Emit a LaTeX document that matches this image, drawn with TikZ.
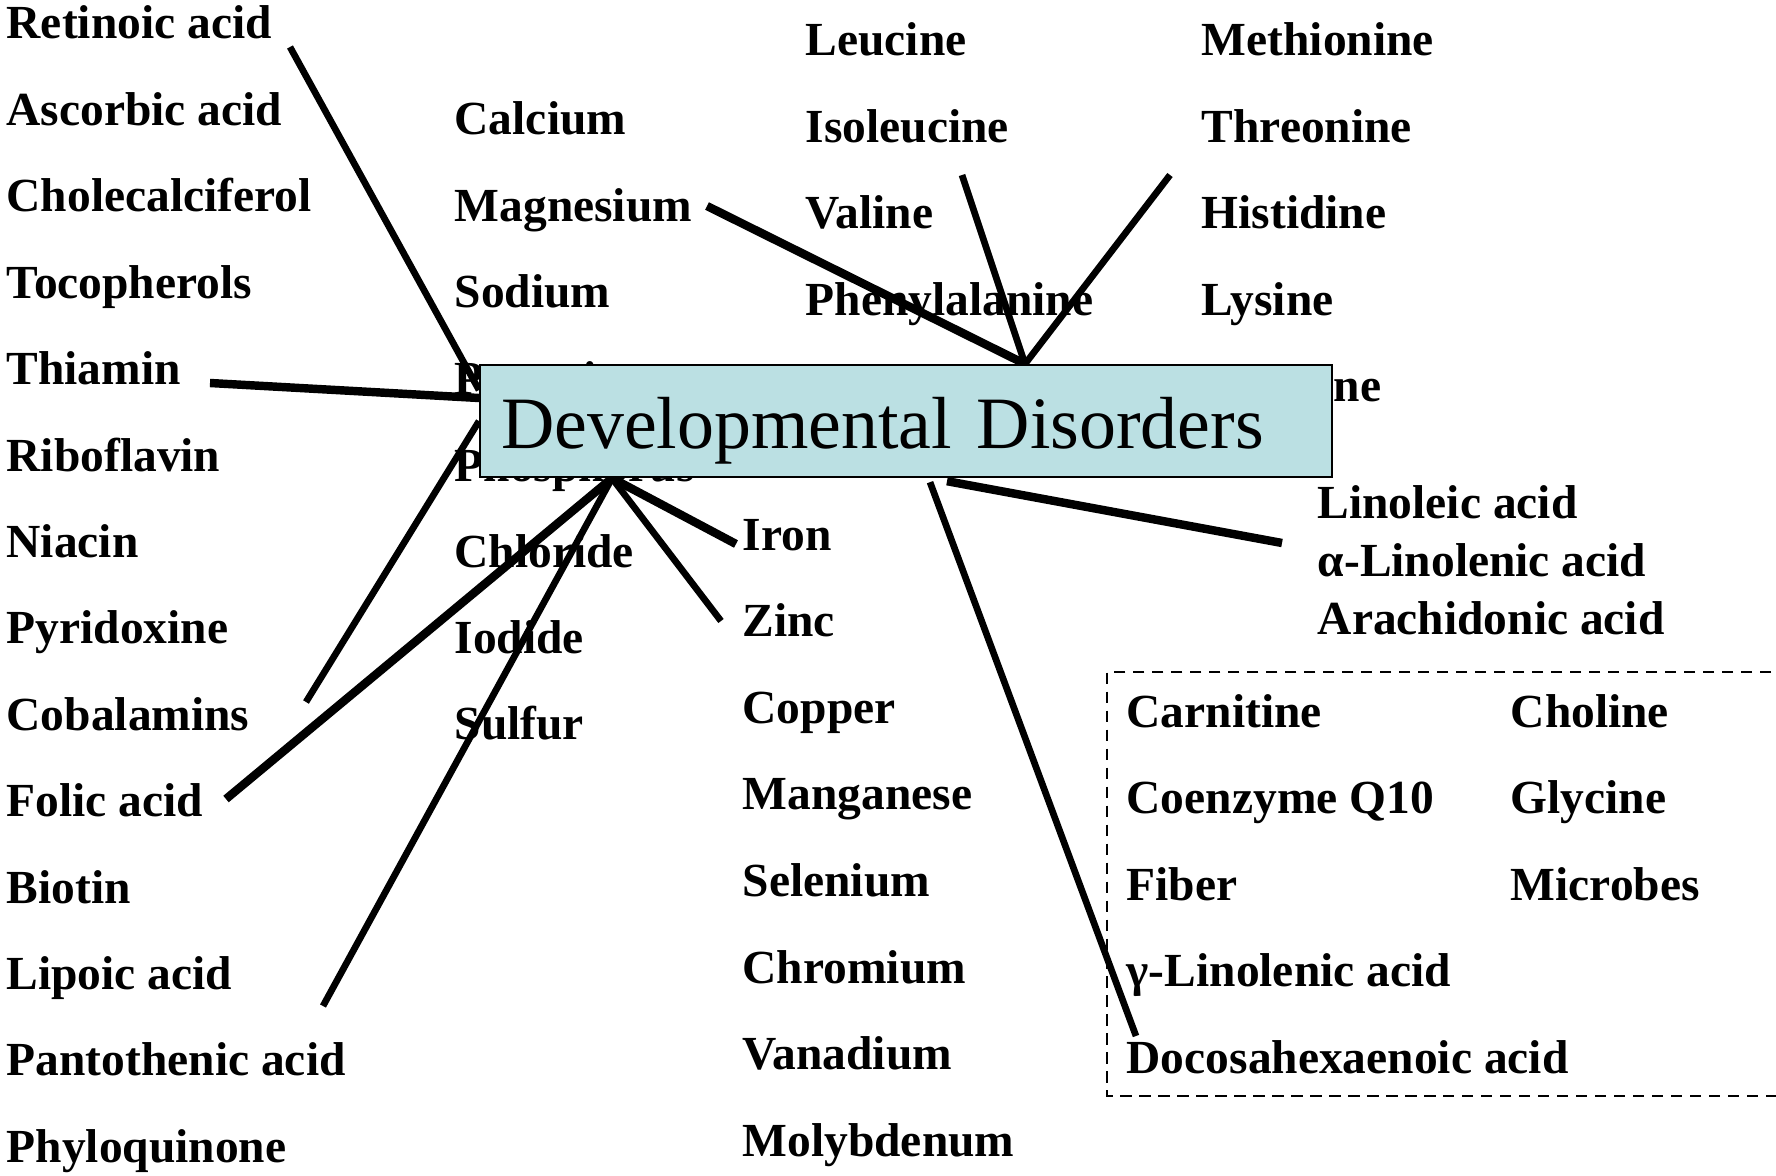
\documentclass[tikz,border=0pt]{standalone}
\usepackage{fontspec}
\setmainfont{Liberation Serif}
\usetikzlibrary{calc,backgrounds}

\definecolor{ddblue}{RGB}{187,224,227}
\newcommand{\nutfont}{\fontsize{13.5pt}{16pt}\selectfont\bfseries}
\newcommand{\ddfont}{\fontsize{21pt}{25pt}\selectfont}

\begin{document}
\begin{tikzpicture}[x=0.01cm,y=-0.01cm,
    nut/.style={anchor=base west,inner sep=0pt,font=\nutfont},
    link/.style={line width=1.9pt},
    heavy link/.style={line width=2.4pt},
    ddbox/.style={draw,line width=0.6pt,fill=ddblue,anchor=north west,
      minimum width=8.51cm,minimum height=1.12cm,text width=8.09cm,
      inner xsep=0.21cm,inner ysep=0pt,text height=0.6cm,text depth=0.06cm,
      align=left,font=\ddfont}]

	\useasboundingbox (0,0) rectangle (1776,1176);

	% vitamins
	\node[nut] (retinoic) at (6,39) {Retinoic acid};
	\node[nut] (ascorbic) at (6,125.4) {Ascorbic acid};
	\node[nut] (cholecalc) at (6,211.8) {Cholecalciferol};
	\node[nut] (tocoph) at (6,298.2) {Tocopherols};
	\node[nut] (thiamin) at (6,384.6) {Thiamin};
	\node[nut] (ribofl) at (6,471) {Riboflavin};
	\node[nut] (niacin) at (6,557.4) {Niacin};
	\node[nut] (pyridox) at (6,643.8) {Pyridoxine};
	\node[nut] (cobalam) at (6,730.2) {Cobalamins};
	\node[nut] (folic) at (6,816.6) {Folic acid};
	\node[nut] (biotin) at (6,903) {Biotin};
	\node[nut] (lipoic) at (6,989.4) {Lipoic acid};
	\node[nut] (panto) at (6,1075.8) {Pantothenic acid};
	\node[nut] (phylo) at (6,1162.2) {Phyloquinone};

	% minerals
	\node[nut] (calcium) at (454,135) {Calcium};
	\node[nut] (magnes) at (454,221.4) {Magnesium};
	\node[nut] (sodium) at (454,307.8) {Sodium};
	\node[nut] (potass) at (454,394.2) {Potassium};
	\node[nut] (phosph) at (454,481) {Phosphorus};
	\node[nut] (chloride) at (454,567) {Chloride};
	\node[nut] (iodide) at (454,653.4) {Iodide};
	\node[nut] (sulfur) at (454,739.8) {Sulfur};

	\node[nut] (iron) at (742,550) {Iron};
	\node[nut] (zinc) at (742,636.6) {Zinc};
	\node[nut] (copper) at (742,723.2) {Copper};
	\node[nut] (mangan) at (742,809.8) {Manganese};
	\node[nut] (selen) at (742,896.4) {Selenium};
	\node[nut] (chrom) at (742,983) {Chromium};
	\node[nut] (vanad) at (742,1069.6) {Vanadium};
	\node[nut] (molyb) at (742,1156.2) {Molybdenum};

	% amino acids
	\node[nut] (leucine) at (805,56) {Leucine};
	\node[nut] (isoleuc) at (805,142.4) {Isoleucine};
	\node[nut] (valine) at (805,228.8) {Valine};
	\node[nut] (phenyl) at (805,315.2) {Phenylalanine};
	\node[nut] (methion) at (1201,56) {Methionine};
	\node[nut] (threon) at (1201,142.4) {Threonine};
	\node[nut] (histid) at (1201,228.8) {Histidine};
	\node[nut] (lysine) at (1201,315.2) {Lysine};
	\node[nut] (arginine) at (1201,401.6) {Arginine};

	% fatty acids
	\node[nut] (linoleic) at (1317,518) {Linoleic acid};
	\node[nut] (alin) at (1317,576) {α-Linolenic acid};
	\node[nut] (arachid) at (1317,634) {Arachidonic acid};

	% others, dashed frame runs off the right edge
	\draw[line width=0.7pt,dash pattern=on 3.2pt off 2.2pt]
	    (1790,672) -- (1107,672) -- (1107,1096) -- (1790,1096);
	\node[nut] (carnit) at (1126,727) {Carnitine};
	\node[nut] (coq) at (1126,813.5) {Coenzyme Q10};
	\node[nut] (fiber) at (1126,900) {Fiber};
	\node[nut] (glin) at (1126,986.5) {γ-Linolenic acid};
	\node[nut] (dha) at (1126,1073) {Docosahexaenoic acid};
	\node[nut] (choline) at (1510,727) {Choline};
	\node[nut] (glycine) at (1510,813.5) {Glycine};
	\node[nut] (microb) at (1510,900) {Microbes};

	\node[ddbox] (dd) at (479,364) {Developmental Disorders};

	% free ends of the spokes
	\coordinate (tipRet) at (290,47);
	\coordinate (tipThi) at (210,383);
	\coordinate (tipCob) at (306,702);
	\coordinate (tipFol) at (226,799);
	\coordinate (tipLip) at (323,1006);
	\coordinate (tipIron) at (736,544);
	\coordinate (tipZinc) at (721,621);
	\coordinate (tipMag) at (707,206);
	\coordinate (tipIso) at (962,175);
	\coordinate (tipThr) at (1170,175);
	\coordinate (tipLin) at (1282,543);
	\coordinate (tipDha) at (1136,1036);

	% hubs on the box
	\coordinate (hubN) at ($(dd.north west)+(546,0)$);
	\coordinate (hubS) at ($(dd.south west)+(133,0)$);

	\begin{scope}[on background layer]
	  \draw[link] (tipRet) -- ($(dd.north west)+(0,26)$);
	  \draw[heavy link] (tipThi) -- ($(dd.north west)+(0,34)$);
	  \draw[link] (tipCob) -- (dd.west);
	  \draw[heavy link] (tipFol) -- (hubS);
	  \draw[link] (tipLip) -- (hubS);
	  \draw[heavy link] (tipIron) -- (hubS);
	  \draw[link] (tipZinc) -- (hubS);
	  \draw[heavy link] (tipMag) -- (hubN);
	  \draw[link] (tipIso) -- (hubN);
	  \draw[link] (tipThr) -- (hubN);
	  \draw[heavy link] (tipLin) -- ($(dd.south west)+(468,3)$);
	  \draw[link] (tipDha) -- ($(dd.south west)+(451,4)$);
	\end{scope}

\end{tikzpicture}
\end{document}
